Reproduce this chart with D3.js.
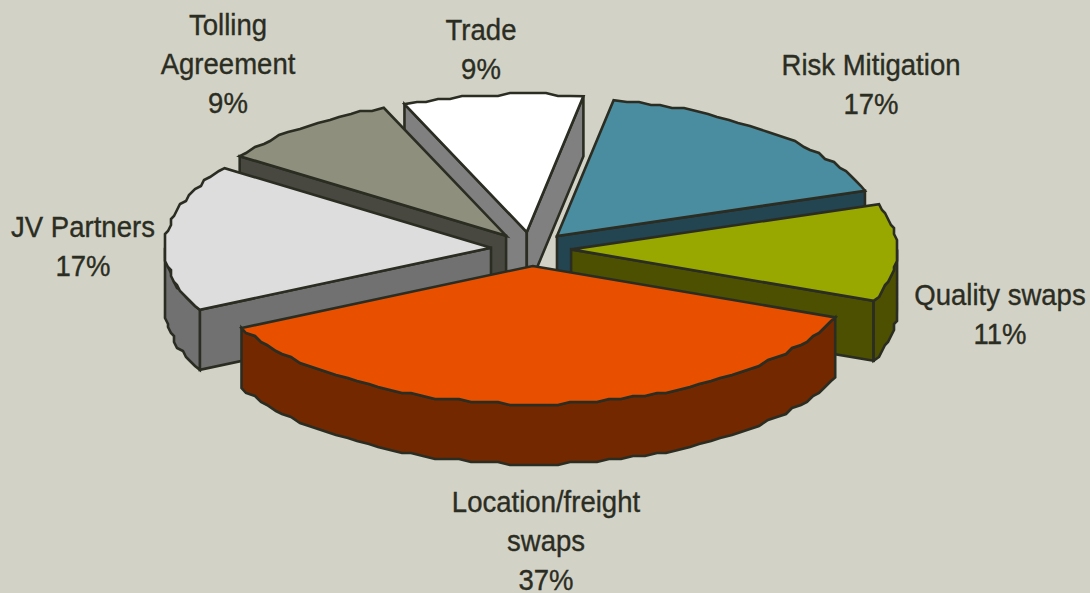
<!DOCTYPE html>
<html>
<head>
<meta charset="utf-8">
<script src="https://cdn.jsdelivr.net/npm/d3@7"></script>
<style>
  html, body { margin: 0; padding: 0; background: #d2d2c6; }
  svg { display: block; }
  text { font-family: "Liberation Sans", Arial, sans-serif; fill: #2b2d22; stroke: #2b2d22; stroke-width: 0.35; }
</style>
</head>
<body>
<svg width="1090" height="593"></svg>
<script>
// Clockwise from the top, labels show them rounded
var categories = ['Risk Mitigation', 'Quality swaps', 'Location/freight swaps', 'JV Partners', 'Tolling Agreement', 'Trade'];
var shares = [16.9, 11.4, 36.5, 17.2, 9.1, 8.9];

var faceColors = ['#4a8da0', '#98a800', '#e85000', '#dddddd', '#8f8f7e', '#ffffff'];
var wallColors = ['#234552', '#4c5000', '#732800', '#717171', '#484840', '#808080'];

// Label text is broken in lines, [centre x, first baseline y]
var labelLines = [['Risk Mitigation'], ['Quality swaps'], ['Location/freight', 'swaps'], ['JV Partners'], ['Tolling', 'Agreement'], ['Trade']];
var labelAnchors = [[871, 75], [1000, 305], [546, 512], [83, 237], [228, 35], [481, 40]];

var depth = 60;
var explode = 0.123;
var startDeg = 10;
var grid = 3; // the outlines of the original are stepped, not smooth

var svg = d3.select('svg');
var x = d3.scaleLinear().domain([-1, 1]).range([531 - 326, 531 + 326]);
var y = d3.scaleLinear().domain([-1, 1]).range([249 - 138, 249 + 138]);
var line = d3.line();

var slices = d3.pie().sort(null).startAngle(startDeg * Math.PI / 180)
  .endAngle(startDeg * Math.PI / 180 + 2 * Math.PI)(shares);

slices.forEach(function(s, i) {
  s.index = i;
  s.mid = (s.startAngle + s.endAngle) / 2;
  s.ox = explode * Math.sin(s.mid);
  s.oy = -explode * Math.cos(s.mid);
});

// Point on the rim of a slice
const rim = function(s, a, drop) {
  return [x(s.ox + Math.sin(a)), y(s.oy - Math.cos(a)) + drop];
};
const apex = function(s, drop) {
  return [x(s.ox), y(s.oy) + drop];
};
// Rim from a0 to a1, stepped on a coarse grid, with exact ends
const arcPoints = function(s, a0, a1, drop) {
  var n = Math.max(2, Math.ceil(Math.abs(a1 - a0) / (2.2 * Math.PI / 180)));
  return d3.range(n + 1).map(function(k) {
    var p = rim(s, a0 + (a1 - a0) * k / n, drop);
    if (k == 0 || k == n) return p;
    return [Math.round(p[0] / grid) * grid, Math.round(p[1] / grid) * grid];
  });
};

// Back slices first
var order = slices.slice().sort(function(a, b) { return a.oy - b.oy; });

order.forEach(function(s) {
  var g = svg.append('g').attr('class', 'slice');
  var wall = wallColors[s.index];
  const draw = function(points, fill) {
    g.append('path')
      .attr('d', line(points) + 'Z')
      .attr('fill', fill)
      .attr('stroke', '#2b2d22')
      .attr('stroke-width', 2.6)
      .attr('stroke-linejoin', 'miter');
  };

  // Radial walls face the viewer when the normal points downwards
  if (Math.sin(s.startAngle) < 0) {
    draw([apex(s, 0), rim(s, s.startAngle, 0), rim(s, s.startAngle, depth), apex(s, depth)], wall);
  }
  if (Math.sin(s.endAngle) > 0) {
    draw([apex(s, 0), rim(s, s.endAngle, 0), rim(s, s.endAngle, depth), apex(s, depth)], wall);
  }

  // Outer wall, only the front half of the rim
  var a0 = Math.max(s.startAngle, Math.PI / 2);
  var a1 = Math.min(s.endAngle, 3 * Math.PI / 2);
  if (a1 > a0) {
    draw(arcPoints(s, a0, a1, 0).concat(arcPoints(s, a1, a0, depth)), wall);
  }

  // Top face
  draw([apex(s, 0)].concat(arcPoints(s, s.startAngle, s.endAngle, 0)), faceColors[s.index]);
});

// Labels
categories.forEach(function(name, i) {
  var lines = labelLines[i].concat([Math.round(shares[i]) + '%']);
  svg.append('g').selectAll('text')
      .data(lines)
    .enter().append('text')
      .attr('text-anchor', 'middle')
      .attr('font-size', 29)
      .attr('transform', function(d, k) {
        return 'translate(' + labelAnchors[i][0] + ',' + (labelAnchors[i][1] + k * 39) + ') scale(0.95,1)';
      })
      .text(function(d) { return d; });
});
</script>
</body>
</html>
